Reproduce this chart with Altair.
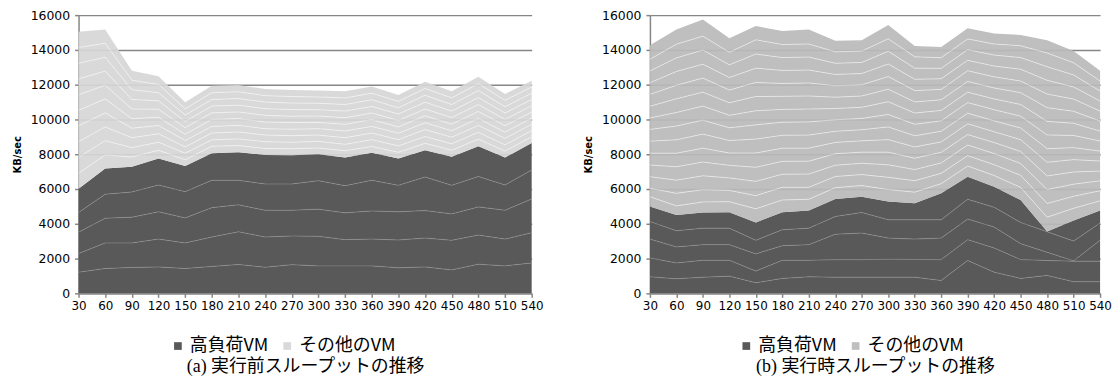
import altair as alt
import pandas as pd

# elapsed time (sec)
x_vals = [30, 60, 90, 120, 150, 180, 210, 240, 270, 300, 330, 360, 390, 420, 450, 480, 510, 540]
y_ticks = [0, 2000, 4000, 6000, 8000, 10000, 12000, 14000, 16000]
groups = ["高負荷VM", "その他のVM"]

# ---- (a) before execution: high-load VMs (5 layers, bottom -> top)
a_high = [
    [1220, 1430, 1490, 1520, 1430, 1550, 1660, 1500, 1650, 1580, 1580, 1580, 1470, 1520, 1350, 1680, 1580, 1750],
    [1070, 1470, 1410, 1600, 1470, 1690, 1880, 1740, 1650, 1700, 1510, 1540, 1600, 1660, 1700, 1670, 1540, 1740],
    [1230, 1420, 1480, 1570, 1440, 1690, 1550, 1540, 1480, 1560, 1540, 1620, 1620, 1580, 1520, 1620, 1660, 1940],
    [1130, 1380, 1450, 1540, 1510, 1570, 1410, 1510, 1510, 1640, 1560, 1760, 1520, 1930, 1640, 1750, 1450, 1660],
    [1370, 1480, 1450, 1520, 1480, 1560, 1610, 1670, 1650, 1520, 1620, 1580, 1540, 1540, 1640, 1740, 1580, 1560],
]
# ---- (a) other VMs
a_other = [
    [880, 780, 560, 480, 350, 400, 390, 370, 380, 360, 390, 370, 360, 400, 380, 410, 370, 350],
    [920, 820, 540, 460, 380, 370, 380, 390, 370, 380, 370, 390, 370, 390, 370, 390, 360, 360],
    [900, 790, 570, 490, 360, 390, 400, 380, 380, 360, 380, 380, 360, 400, 380, 400, 370, 360],
    [910, 810, 550, 470, 370, 380, 380, 370, 370, 370, 390, 380, 370, 390, 370, 400, 360, 350],
    [890, 800, 540, 480, 360, 400, 390, 380, 380, 360, 380, 390, 360, 400, 380, 400, 370, 360],
    [900, 790, 560, 460, 370, 380, 380, 390, 370, 370, 380, 380, 370, 390, 380, 400, 360, 360],
    [910, 810, 550, 480, 360, 390, 390, 380, 380, 360, 380, 380, 370, 390, 370, 400, 370, 360],
    [900, 800, 560, 470, 370, 380, 380, 380, 370, 370, 380, 380, 360, 400, 380, 400, 360, 360],
    [910, 800, 550, 470, 360, 390, 390, 370, 380, 360, 380, 380, 370, 390, 380, 400, 370, 360],
    [910, 800, 540, 470, 380, 400, 390, 380, 380, 370, 380, 380, 370, 390, 380, 400, 370, 360],
]

# ---- (b) during execution: high-load VMs
b_high = [
    [950, 840, 930, 990, 610, 860, 950, 930, 930, 930, 930, 740, 1890, 1220, 860, 1030, 670, 670],
    [1090, 910, 970, 910, 670, 1040, 950, 1010, 1010, 1030, 1020, 1200, 1200, 1390, 1080, 860, 1180, 1180],
    [1080, 920, 900, 900, 990, 840, 900, 1460, 1530, 1220, 1170, 1240, 1180, 1200, 920, 470, 20, 1200],
    [1010, 930, 950, 950, 780, 920, 950, 1020, 1180, 1050, 1110, 1050, 1140, 1140, 1220, 1180, 1140, 990],
    [860, 910, 900, 920, 1030, 1010, 1010, 1000, 910, 1050, 950, 1520, 1290, 1180, 1290, 20, 1180, 720],
]
# ---- (b) other VMs
b_other = [
    [570, 520, 610, 600, 780, 700, 650, 660, 640, 690, 640, 560, 620, 650, 720, 820, 700, 560],
    [480, 720, 700, 650, 760, 730, 690, 640, 630, 700, 660, 590, 600, 620, 700, 790, 690, 580],
    [670, 760, 800, 720, 820, 750, 760, 650, 650, 720, 640, 600, 610, 640, 680, 800, 700, 570],
    [670, 770, 790, 720, 810, 740, 740, 660, 640, 730, 650, 610, 600, 630, 690, 780, 700, 560],
    [680, 780, 800, 710, 820, 760, 750, 650, 650, 720, 650, 600, 620, 620, 680, 790, 710, 580],
    [690, 770, 810, 720, 800, 740, 750, 640, 640, 730, 640, 610, 610, 630, 670, 780, 690, 570],
    [680, 790, 800, 730, 820, 750, 760, 660, 650, 720, 660, 600, 610, 640, 680, 790, 700, 580],
    [660, 780, 810, 720, 810, 740, 740, 650, 640, 730, 650, 600, 600, 620, 670, 780, 700, 570],
    [670, 790, 800, 720, 820, 750, 750, 650, 650, 720, 640, 610, 620, 630, 680, 790, 690, 580],
    [680, 780, 810, 730, 810, 740, 750, 660, 640, 730, 650, 600, 610, 640, 670, 780, 700, 570],
    [670, 790, 800, 720, 820, 750, 740, 650, 650, 720, 650, 610, 600, 620, 680, 790, 700, 580],
    [680, 780, 810, 730, 810, 740, 750, 640, 640, 730, 640, 600, 610, 630, 670, 780, 690, 570],
    [670, 790, 800, 720, 820, 750, 750, 660, 650, 720, 650, 610, 620, 640, 680, 790, 700, 580],
    [810, 850, 960, 810, 790, 780, 840, 640, 620, 790, 630, 620, 610, 610, 620, 730, 680, 590],
]


def build_table(high, other):
    rows = []
    base = [0] * len(x_vals)
    k = 0
    for grp, layers in ((groups[0], high), (groups[1], other)):
        for j, layer in enumerate(layers):
            top = [b + v for b, v in zip(base, layer)]
            last = j == len(layers) - 1
            sep = "none" if last else ("dark" if grp == groups[0] else "light")
            for t, lo, hi in zip(x_vals, base, top):
                rows.append({"t": t, "vm": f"vm{k:02d}", "grp": grp, "lo": lo, "hi": hi, "sep": sep})
            base = top
            k += 1
    return pd.DataFrame(rows)


FONT = "DejaVu Sans"
JP = "Noto Sans CJK JP"


def panel(df, light_color, caption, width, legend_x):
    x = alt.X(
        "t:Q",
        scale=alt.Scale(domain=[30, 540], nice=False, zero=False),
        axis=alt.Axis(
            values=x_vals, title=caption, titleFont="Liberation Serif, " + JP, titleFontSize=18,
            titleFontWeight="normal", titleColor="#000000", titlePadding=47,
            labelFont=FONT, labelFontSize=12, labelColor="#000000", labelPadding=3,
            labelOverlap=False, labelFlush=False, tickSize=4, tickColor="#868686", tickWidth=1.5,
            domainColor="#868686", domainWidth=1.5, grid=False, zindex=1,
        ),
    )
    y = alt.Y(
        "hi:Q",
        scale=alt.Scale(domain=[0, 16000], nice=False),
        axis=alt.Axis(
            values=y_ticks, format="d", title="KB/sec", titleFont=FONT, titleFontSize=10,
            titleFontWeight="bold", titleColor="#000000", titlePadding=8,
            labelFont=FONT, labelFontSize=12.5, labelColor="#000000", labelPadding=5,
            tickSize=4, tickColor="#868686", tickWidth=1.5, domainColor="#868686", domainWidth=1.5,
            grid=True, gridColor="#868686", gridWidth=1.5, zindex=0,
        ),
    )
    base = alt.Chart(df)
    area = base.mark_area(strokeWidth=0, interpolate="linear").encode(
        x=x, y=y, y2="lo:Q",
        color=alt.Color(
            "grp:N",
            scale=alt.Scale(domain=groups, range=["#595959", light_color]),
            sort=groups,
            legend=alt.Legend(
                title=None, orient="none", direction="horizontal", legendX=legend_x, legendY=324,
                symbolType="square", symbolSize=60, symbolStrokeWidth=0, labelFont=JP,
                labelFontSize=18, labelColor="#000000", columnPadding=10, labelOffset=3, padding=0,
            ),
        ),
        opacity=alt.Opacity("grp:N", scale=alt.Scale(domain=groups, range=[1.0, 0.93]), legend=None),
        detail="vm:N",
    )
    lines = base.transform_filter(alt.datum.sep != "none").mark_line(strokeWidth=0.6, opacity=0.8).encode(
        x=x, y=y, detail="vm:N",
        stroke=alt.Stroke("sep:N", scale=alt.Scale(domain=["dark", "light"], range=["#9a9a9a", "#ffffff"]), legend=None),
    )
    return alt.layer(area, lines).properties(width=width, height=280)


pa = panel(build_table(a_high, a_other), "#d6d6d6", "(a) 実行前スループットの推移", 456, 91)
pb = panel(build_table(b_high, b_other), "#bababa", "(b) 実行時スループットの推移", 453, 88)

chart = (
    alt.hconcat(pa, pb, spacing=40)
    .resolve_scale(color="independent", opacity="independent", stroke="independent", x="independent", y="independent")
    .resolve_legend(color="independent")
    .properties(padding={"left": 4, "top": 0, "right": 0, "bottom": 0}, background="white")
    .configure_view(stroke=None)
)

chart.save("out.html", embed_options={"renderer": "svg", "actions": False})
